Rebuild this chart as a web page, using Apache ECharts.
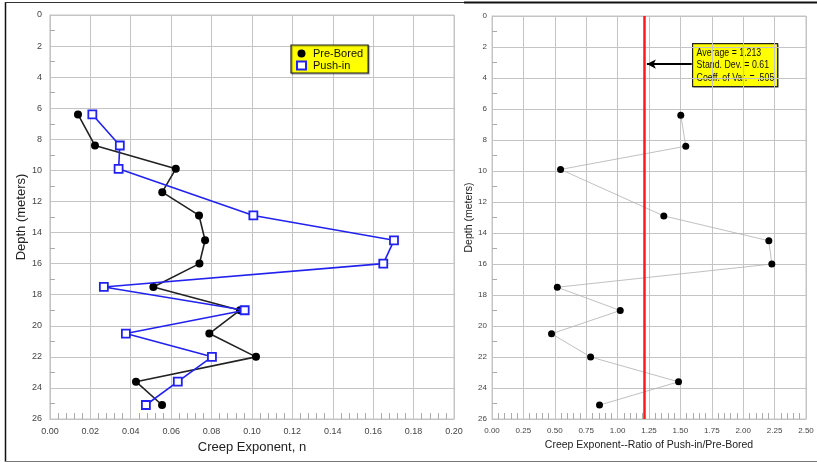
<!DOCTYPE html>
<html>
<head>
<meta charset="utf-8">
<script src="https://cdn.jsdelivr.net/npm/echarts@6/dist/echarts.min.js"></script>
<style>
html,body{margin:0;padding:0;background:#fff;}
#c{width:817px;height:463px;}
</style>
</head>
<body>
<div id="c"></div>
<script>
// Depths (m) for each test
var depths = [6.4, 8.4, 9.9, 11.4, 12.9, 14.5, 16.0, 17.5, 19.0, 20.5, 22.0, 23.6, 25.1];
var depthsPush = [6.4, 8.4, 9.9, 12.9, 14.5, 16.0, 17.5, 19.0, 20.5, 22.0, 23.6, 25.1];
// Creep exponent n, Pre-Bored
var preBored = [0.0139, 0.0223, 0.0623, 0.0556, 0.0738, 0.0768, 0.0740, 0.0512, 0.0941, 0.0789, 0.1020, 0.0426, 0.0555];
// Creep exponent n, Push-in
var pushIn = [0.0210, 0.0346, 0.0340, 0.1007, 0.1703, 0.1650, 0.0267, 0.0964, 0.0376, 0.0802, 0.0633, 0.0475];
// Ratio Push-in / Pre-Bored
var ratioDepths = [6.4, 8.4, 9.9, 12.9, 14.5, 16.0, 17.5, 19.0, 20.5, 22.0, 23.6, 25.1];
var ratio = [1.503, 1.543, 0.546, 1.368, 2.204, 2.228, 0.520, 1.021, 0.474, 0.785, 1.485, 0.856];
var average = 1.213;
var annotationLines = ['Average = 1.213', 'Stand. Dev. = 0.61', 'Coeff. of Var. = .505'];

function pairs(xs, ys){ return xs.map(function(v,i){ return [v, ys[i]]; }); }

var sans = "'Liberation Sans', Arial, sans-serif";
var gridCol = '#c4c4c4';

function yAxisCfg(gi, fontSize, nameGap, nameSize, margin){
  return {
    gridIndex: gi, type: 'value', inverse: true, min: 0, max: 26, interval: 2,
    name: 'Depth (meters)', nameLocation: 'middle', nameGap: nameGap,
    nameTextStyle: {fontSize: nameSize, color: '#222', fontFamily: sans},
    axisLine: {show: true, onZero: false, lineStyle: {color: gridCol}},
    axisTick: {show: false, inside: true},
    minorTick: {show: true, splitNumber: 2, length: 5, lineStyle: {color: '#aaa'}},
    axisLabel: {fontSize: fontSize, color: '#444', margin: margin, fontFamily: sans},
    splitLine: {show: true, lineStyle: {color: gridCol, width: 1}}
  };
}

function xAxisCfg(gi, max, interval, name, nameGap, nameSize, labelSize){
  return {
    gridIndex: gi, type: 'value', min: 0, max: max, interval: interval,
    name: name, nameLocation: 'middle', nameGap: nameGap,
    nameTextStyle: {fontSize: nameSize, color: '#222', fontFamily: sans},
    axisLine: {show: true, onZero: false, lineStyle: {color: gridCol}},
    axisTick: {show: false, inside: true},
    minorTick: {show: true, splitNumber: 5, length: 6, lineStyle: {color: '#aaa'}},
    axisLabel: {fontSize: labelSize, color: '#444', margin: 8, fontFamily: sans,
                formatter: function(v){ return v.toFixed(2); }},
    splitLine: {show: true, lineStyle: {color: gridCol, width: 1}}
  };
}

var option = {
  animation: false,
  backgroundColor: '#fff',
  grid: [
    {left: 44, right: 363, top: 15, bottom: 44, show: true, borderColor: gridCol, borderWidth: 1},
    {left: 492, right: 11, top: 16, bottom: 44, show: true, borderColor: gridCol, borderWidth: 1}
  ],
  xAxis: [
    xAxisCfg(0, 0.2, 0.02, 'Creep Exponent, n', 21, 13, 9),
    xAxisCfg(1, 2.5, 0.25, 'Creep Exponent--Ratio of Push-in/Pre-Bored', 19, 10.5, 8)
  ],
  yAxis: [
    yAxisCfg(0, 9, 16, 13, 8),
    yAxisCfg(1, 8, 10, 10.5, 5)
  ],
  legend: {
    left: 291, top: 45, orient: 'vertical', itemGap: 1, itemWidth: 9, itemHeight: 8,
    backgroundColor: '#ffff00', borderColor: '#222', borderWidth: 1.2, padding: [3, 5, 2, 5],
    textStyle: {fontSize: 11, color: '#111', fontFamily: sans, padding: [0,0,0,2]},
    shadowColor: 'rgba(0,0,0,0.4)', shadowOffsetX: 1, shadowOffsetY: 1, shadowBlur: 1,
    data: [
      {name: 'Pre-Bored', icon: 'circle'},
      {name: 'Push-in', icon: 'rect'}
    ]
  },
  series: [
    {name: 'Pre-Bored', type: 'line', xAxisIndex: 0, yAxisIndex: 0,
     data: pairs(preBored, depths),
     lineStyle: {color: '#222', width: 1.6},
     itemStyle: {color: '#000'},
     symbol: 'circle', symbolSize: 8, z: 3},
    {name: 'Push-in', type: 'line', xAxisIndex: 0, yAxisIndex: 0,
     data: pairs(pushIn, depthsPush),
     lineStyle: {color: '#2222ee', width: 1.6},
     itemStyle: {color: '#fff', borderColor: '#2222ee', borderWidth: 1.8},
     symbol: 'rect', symbolSize: 8, z: 4},
    {name: 'Ratio', type: 'line', xAxisIndex: 1, yAxisIndex: 1,
     data: pairs(ratio, ratioDepths),
     lineStyle: {color: '#b0b0b0', width: 0.8},
     itemStyle: {color: '#000'},
     symbol: 'circle', symbolSize: 7, z: 4,
     markLine: {
       silent: true, animation: false,
       label: {show: false},
       data: [
         [{coord: [average, 0], symbol: 'none', lineStyle: {color: '#ff1a1a', width: 2.5, type: 'solid'}},
          {coord: [average, 26], symbol: 'none'}],
         [{coord: [1.59, 3.1], symbol: 'none', lineStyle: {color: '#000', width: 1.8, type: 'solid'}},
          {coord: [average + 0.02, 3.1], symbol: 'arrow', symbolSize: [7, 9]}]
       ]
     }}
  ],
  graphic: [
    {type: 'group', left: 692, top: 43, children: [
      {type: 'rect', shape: {x: 1, y: 1, width: 85, height: 43}, style: {fill: 'rgba(0,0,0,0.45)'}},
      {type: 'rect', shape: {x: 0, y: 0, width: 85, height: 43}, style: {fill: '#ffff00', stroke: '#222', lineWidth: 1.2}},
      {type: 'text', x: 4, y: 3, scaleX: 0.8, style: {text: annotationLines.join('\n'), font: '11px ' + sans, fill: '#111', lineHeight: 12.5}}
    ]},
    {type: 'line', shape: {x1: 5.5, y1: 2, x2: 5.5, y2: 462}, style: {stroke: '#111', lineWidth: 1.5}},
    {type: 'line', shape: {x1: 5, y1: 2.5, x2: 464, y2: 2.5}, style: {stroke: '#333', lineWidth: 1}},
    {type: 'line', shape: {x1: 464, y1: 2.5, x2: 817, y2: 2.5}, style: {stroke: '#111', lineWidth: 2}},
    {type: 'line', shape: {x1: 5, y1: 461.5, x2: 817, y2: 461.5}, style: {stroke: '#777', lineWidth: 1.2}}
  ]
};
var chart = echarts.init(document.getElementById('c'), null, {renderer: 'canvas'});
chart.setOption(option);
</script>
</body>
</html>
